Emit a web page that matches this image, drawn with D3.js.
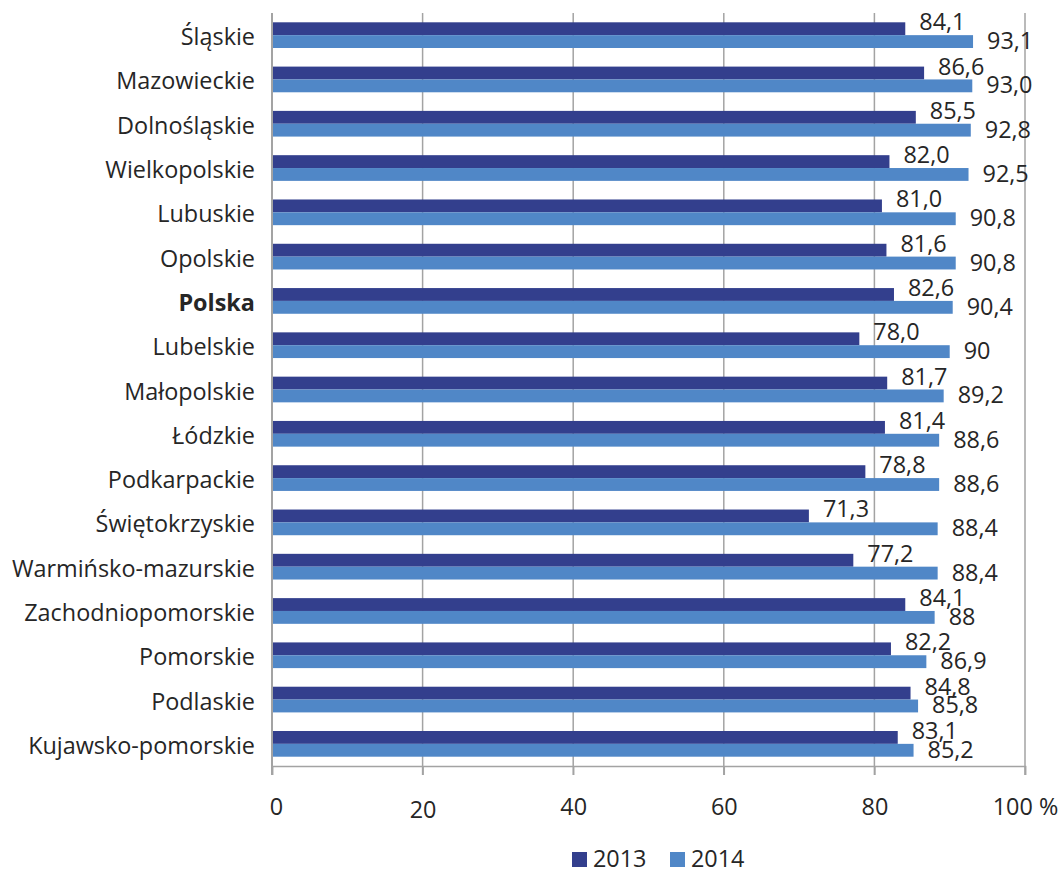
<!DOCTYPE html>
<html>
<head>
<meta charset="utf-8">
<script src="https://cdn.jsdelivr.net/npm/d3@7"></script>
<style>
  body { margin: 0; background: #fff; }
  svg text { font-family: "Open Sans", sans-serif; fill: #262626; }
</style>
</head>
<body>
<svg id="chart"></svg>
<script>
// regions, top to bottom
const regions = ['Śląskie', 'Mazowieckie', 'Dolnośląskie', 'Wielkopolskie', 'Lubuskie', 'Opolskie',
  'Polska', 'Lubelskie', 'Małopolskie', 'Łódzkie', 'Podkarpackie', 'Świętokrzyskie',
  'Warmińsko-mazurskie', 'Zachodniopomorskie', 'Pomorskie', 'Podlaskie', 'Kujawsko-pomorskie']
const values2013 = [84.1, 86.6, 85.5, 82.0, 81.0, 81.6, 82.6, 78.0, 81.7, 81.4, 78.8, 71.3, 77.2, 84.1, 82.2, 84.8, 83.1]
const values2014 = [93.1, 93.0, 92.8, 92.5, 90.8, 90.8, 90.4, 90, 89.2, 88.6, 88.6, 88.4, 88.4, 88, 86.9, 85.8, 85.2]
// labels as printed on the chart (some 2014 values have no decimal)
const labels2013 = ['84,1', '86,6', '85,5', '82,0', '81,0', '81,6', '82,6', '78,0', '81,7', '81,4', '78,8', '71,3', '77,2', '84,1', '82,2', '84,8', '83,1']
const labels2014 = ['93,1', '93,0', '92,8', '92,5', '90,8', '90,8', '90,4', '90', '89,2', '88,6', '88,6', '88,4', '88,4', '88', '86,9', '85,8', '85,2']
const series = ['2013', '2014']
const xTicks = [0, 20, 40, 60, 80, 100]
const xTickLabels = ['0', '20', '40', '60', '80', '100 %']

const width = 1061
const height = 870
const colors = {'2013': '#333f8d', '2014': '#5087c7'}
const gridColor = '#a3a3a3'
const fontSize = 23.4

const svg = d3.select('#chart')
  .attr('width', width)
  .attr('height', height)

const x = d3.scaleLinear()
  .domain([0, 100])
  .range([272, 1025])

const y = d3.scaleBand()
  .domain(regions)
  .range([13, 766])
  .paddingInner(0.42)
  .paddingOuter(0.21)

const ySub = d3.scaleBand()
  .domain(series)
  .range([0, y.bandwidth()])

const rows = regions.map((r, i) => ({
  region: r,
  vals: [
    {key: '2013', value: values2013[i], label: labels2013[i]},
    {key: '2014', value: values2014[i], label: labels2014[i]}
  ]
}))

// gridlines
svg.append('g')
  .selectAll('line')
  .data(xTicks.slice(1))
  .join('line')
    .attr('x1', d => x(d))
    .attr('x2', d => x(d))
    .attr('y1', 13)
    .attr('y2', 775)
    .attr('stroke', gridColor)
    .attr('stroke-width', 1.5)

// bars
const groups = svg.append('g')
  .selectAll('g')
  .data(rows)
  .join('g')
    .attr('transform', d => `translate(0, ${y(d.region)})`)

groups.selectAll('rect')
  .data(d => d.vals)
  .join('rect')
    .attr('x', x(0))
    .attr('y', d => ySub(d.key))
    .attr('width', d => x(d.value) - x(0))
    .attr('height', ySub.bandwidth())
    .attr('fill', d => colors[d.key])

// value labels, 2013 nudged up, 2014 nudged down as in the original
groups.selectAll('text')
  .data(d => d.vals)
  .join('text')
    .attr('x', d => x(d.value) + 14)
    .attr('y', d => ySub(d.key) + ySub.bandwidth() / 2 + (d.key === '2013' ? 1.5 : 7.5))
    .attr('font-size', fontSize)
    .text(d => d.label)

// category labels
svg.append('g')
  .selectAll('text')
  .data(regions)
  .join('text')
    .attr('x', 255)
    .attr('y', d => y(d) + y.bandwidth() / 2 + 10)
    .attr('text-anchor', 'end')
    .attr('font-size', fontSize)
    .attr('font-weight', d => d === 'Polska' ? 'bold' : 'normal')
    .text(d => d)

// axes
const xAxis = svg.append('g')
  .attr('transform', 'translate(0, 766)')
  .call(d3.axisBottom(x).tickValues(xTicks).tickSize(9).tickPadding(0)
    .tickFormat((d, i) => xTickLabels[i]))
xAxis.select('.domain').attr('stroke', gridColor).attr('stroke-width', 1.5)
xAxis.selectAll('.tick line').attr('stroke', gridColor).attr('stroke-width', 1.5)
xAxis.selectAll('.tick text')
  .attr('font-size', fontSize)
  .attr('font-family', '"Open Sans", sans-serif')
  .attr('fill', '#262626')
  .attr('dy', null)
  .attr('x', d => d === 0 ? 4 : 0)
  .attr('y', d => d === 20 ? 52 : 49)

svg.append('line')
  .attr('x1', x(0)).attr('x2', x(0))
  .attr('y1', 13).attr('y2', 775)
  .attr('stroke', gridColor)
  .attr('stroke-width', 2)

// legend
const legend = svg.append('g')
  .selectAll('g')
  .data(series)
  .join('g')
    .attr('transform', (d, i) => `translate(${572 + i * 98}, 852)`)
legend.append('rect')
  .attr('width', 15)
  .attr('height', 15)
  .attr('fill', d => colors[d])
legend.append('text')
  .attr('x', 21)
  .attr('y', 15)
  .attr('font-size', fontSize)
  .text(d => d)
</script>
</body>
</html>
